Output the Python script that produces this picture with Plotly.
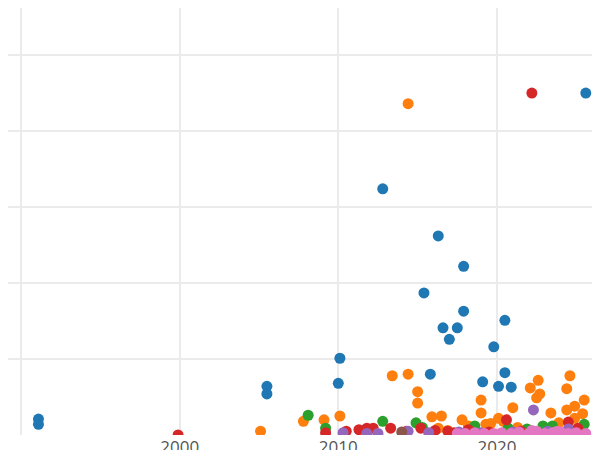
import plotly.graph_objects as go

blue_x = [1991.1, 1991.1, 2005.5, 2005.5, 2010.0, 2010.1, 2012.8, 2015.4, 2015.8, 2016.3, 2016.6, 2017.0, 2017.5, 2017.9, 2017.9, 2019.1, 2019.8, 2020.1, 2020.5, 2020.5, 2020.9, 2025.6]
blue_y = [0.21, 0.14, 0.64, 0.54, 0.68, 1.01, 3.24, 1.87, 0.80, 2.62, 1.41, 1.26, 1.41, 1.63, 2.22, 0.70, 1.16, 0.64, 1.51, 0.82, 0.63, 4.50]
orange_x = [2014.4, 2005.1, 2007.8, 2009.1, 2010.1, 2013.4, 2014.4, 2015.0, 2015.0, 2015.9, 2016.5, 2017.8, 2019.0, 2019.0, 2019.3, 2021.0, 2022.1, 2022.5, 2022.6, 2022.7, 2023.4, 2024.4, 2024.6, 2024.9, 2024.4, 2025.5, 2025.4, 2020.1, 2016.3, 2018.2, 2019.6, 2020.4, 2021.3, 2023.9, 2024.9, 2016.9]
orange_y = [4.36, 0.05, 0.18, 0.20, 0.25, 0.78, 0.80, 0.57, 0.42, 0.24, 0.25, 0.20, 0.46, 0.29, 0.14, 0.36, 0.62, 0.49, 0.72, 0.54, 0.29, 0.61, 0.78, 0.38, 0.33, 0.46, 0.28, 0.22, 0.09, 0.12, 0.15, 0.18, 0.10, 0.16, 0.22, 0.06]
green_x = [2008.1, 2009.2, 2012.8, 2014.9, 2018.6, 2020.7, 2022.9, 2025.5, 2015.3, 2021.9, 2023.5]
green_y = [0.26, 0.09, 0.18, 0.16, 0.12, 0.09, 0.12, 0.14, 0.10, 0.08, 0.12]
red_x = [1999.9, 2022.2, 2009.2, 2010.5, 2011.3, 2011.8, 2012.2, 2013.3, 2015.2, 2016.9, 2018.2, 2020.6, 2024.5, 2025.1, 2014.3, 2016.1, 2017.3, 2019.5, 2021.5]
red_y = [0.0, 4.50, 0.03, 0.05, 0.07, 0.09, 0.09, 0.09, 0.09, 0.05, 0.07, 0.20, 0.17, 0.09, 0.05, 0.06, 0.03, 0.04, 0.05]
purple_x = [2022.3, 2010.3, 2014.4, 2017.6, 2024.5, 2011.8, 2012.5, 2015.7, 2019.0, 2021.0, 2023.2]
purple_y = [0.33, 0.03, 0.05, 0.04, 0.08, 0.02, 0.02, 0.03, 0.03, 0.04, 0.05]
brown_x = [2014.0]
brown_y = [0.04]
pink_x = [2017.5, 2018.0, 2018.6, 2019.2, 2019.8, 2020.3, 2020.9, 2021.4, 2022.0, 2022.5, 2023.0, 2023.5, 2024.0, 2024.5, 2025.0, 2025.6, 2022.2, 2023.8]
pink_y = [0.02, 0.02, 0.03, 0.02, 0.02, 0.03, 0.02, 0.04, 0.02, 0.05, 0.02, 0.03, 0.04, 0.02, 0.03, 0.02, 0.06, 0.05]

series = [
    (blue_x, blue_y, "#1f77b4"),
    (orange_x, orange_y, "#ff7f0e"),
    (green_x, green_y, "#2ca02c"),
    (red_x, red_y, "#d62728"),
    (purple_x, purple_y, "#9467bd"),
    (brown_x, brown_y, "#8c564b"),
    (pink_x, pink_y, "#e377c2"),
]

fig = go.Figure()
for xs, ys, c in series:
    fig.add_trace(go.Scatter(x=xs, y=ys, mode="markers", cliponaxis=True,
                             marker=dict(color=c, size=11), showlegend=False))

fig.update_layout(
    width=600, height=450,
    margin=dict(l=0, r=0, t=0, b=23, pad=0, autoexpand=False),
    plot_bgcolor="white", paper_bgcolor="white",
    font=dict(family="Open Sans", size=17, color="#555"),
)
fig.update_xaxes(range=[1989.18, 2027.0], dtick=10, tick0=2000, showgrid=True,
                 gridcolor="#ebebeb", gridwidth=1.5, zeroline=False, ticks="",
                 automargin=False, ticklabelstandoff=0)
fig.update_yaxes(range=[0, 5.62], dtick=1, showgrid=True, gridcolor="#ebebeb",
                 gridwidth=1.5, showticklabels=False, zeroline=False, ticks="",
                 ticklen=0, automargin=False, showline=False)
fig.write_html("out.html")
